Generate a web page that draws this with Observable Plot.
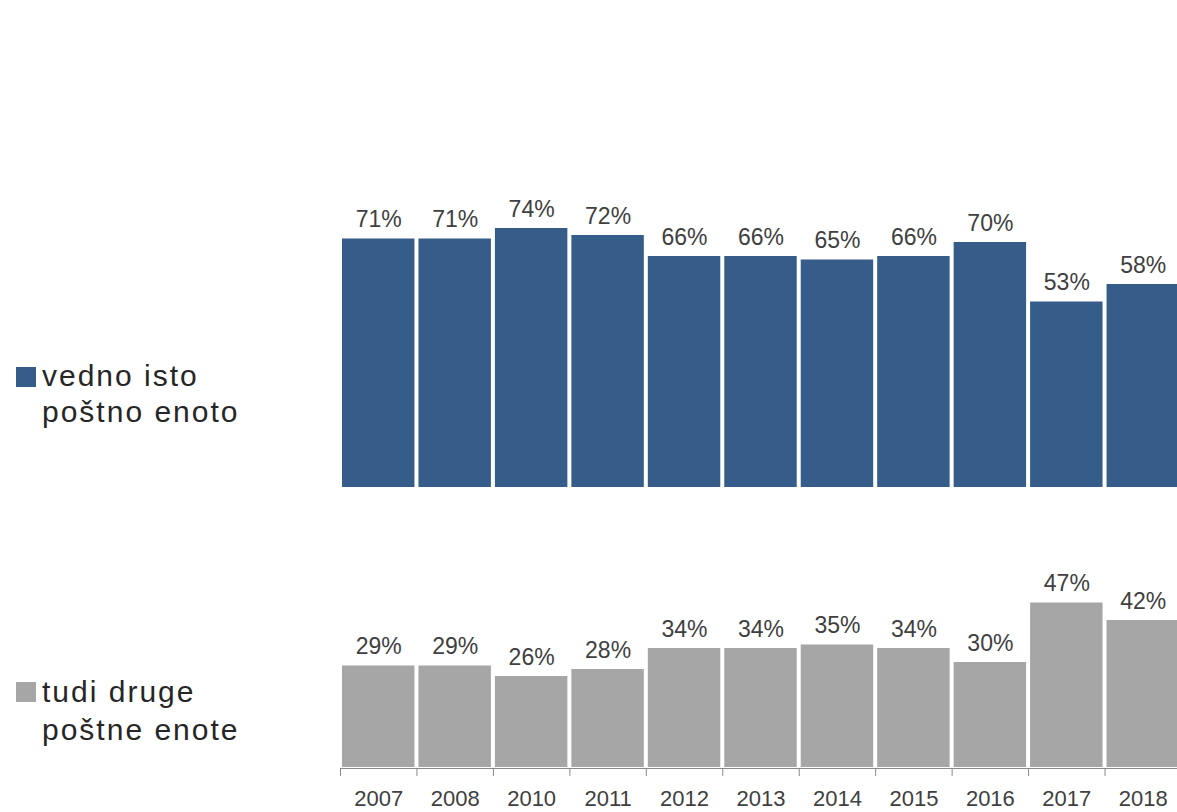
<!DOCTYPE html>
<html>
<head>
<meta charset="utf-8">
<script src="https://cdn.jsdelivr.net/npm/d3@7"></script>
<script src="https://cdn.jsdelivr.net/npm/@observablehq/plot@0.6"></script>
<style>
  html, body { margin: 0; padding: 0; background: #fff; }
  #wrap { position: relative; width: 1177px; height: 812px; overflow: hidden; font-family: "Liberation Sans", Arial, sans-serif; }
  .sw { position: absolute; left: 16px; width: 20px; height: 20px; }
  .lt { position: absolute; left: 42px; font-size: 30px; color: #262626; letter-spacing: 2px; white-space: nowrap; }
</style>
</head>
<body>
<div id="wrap"></div>
<script>
const years = ["2007","2008","2010","2011","2012","2013","2014","2015","2016","2017","2018"];
const same  = [71, 71, 74, 72, 66, 66, 65, 66, 70, 53, 58];
const other = [29, 29, 26, 28, 34, 34, 35, 34, 30, 47, 42];
const seriesNames = ["vedno isto poštno enoto", "tudi druge poštne enote"];
const colors = ["#365D89", "#A6A6A6"];

const rows = years.flatMap((year, i) => [
  {i, year, series: seriesNames[0], value: same[i]},
  {i, year, series: seriesNames[1], value: other[i]}
]);
const yearRows = years.map((year, i) => ({i, year, series: seriesNames[1]}));

const chart = Plot.plot({
  width: 1177,
  height: 812,
  marginLeft: 340,
  marginRight: 0,
  marginTop: 207,
  marginBottom: 45,
  style: {fontFamily: "'Liberation Sans', Arial, sans-serif", background: "transparent", overflow: "visible"},
  x: {domain: [0, years.length], range: [340, 1181], axis: null, label: null},
  y: {domain: [0, 80], axis: null, label: null},
  fy: {domain: seriesNames, axis: null, padding: 0, label: null},
  color: {domain: seriesNames, range: colors},
  marks: [
    Plot.rectY(rows, {x1: "i", x2: d => d.i + 1, y: "value", fy: "series", fill: "series", insetLeft: 2, insetRight: 2}),
    Plot.text(rows, {x: d => d.i + 0.5, y: "value", fy: "series", text: d => d.value + "%", dy: -19, fontSize: 23, fill: "#404040", letterSpacing: 1.5}),
    Plot.ruleY([{series: seriesNames[1]}], {y: 0, fy: "series", dy: 1, stroke: "#8a8a8a"}),
    Plot.axisX({ticks: d3.range(years.length + 1), tickSize: 8, tickFormat: () => "", label: null, stroke: "#8a8a8a", dy: 1}),
    Plot.text(yearRows, {x: d => d.i + 0.5, fy: "series", frameAnchor: "bottom", dy: 38, text: "year", fontSize: 22, fill: "#404040", letterSpacing: 1})
  ]
});

const wrap = document.getElementById("wrap");
chart.style.position = "absolute";
chart.style.left = "0px";
chart.style.top = "0px";
wrap.appendChild(chart);

const legend = [
  {lines: ["vedno isto", "poštno enoto"], color: colors[0], sq: 367, top: 358, lh: 36},
  {lines: ["tudi druge", "poštne enote"], color: colors[1], sq: 682, top: 673, lh: 38}
];
for (const l of legend) {
  const s = document.createElement("div");
  s.className = "sw";
  s.style.top = l.sq + "px";
  s.style.background = l.color;
  wrap.appendChild(s);
  const t = document.createElement("div");
  t.className = "lt";
  t.style.top = l.top + "px";
  t.style.lineHeight = l.lh + "px";
  t.innerHTML = l.lines.join("<br>");
  wrap.appendChild(t);
}
</script>
</body>
</html>
